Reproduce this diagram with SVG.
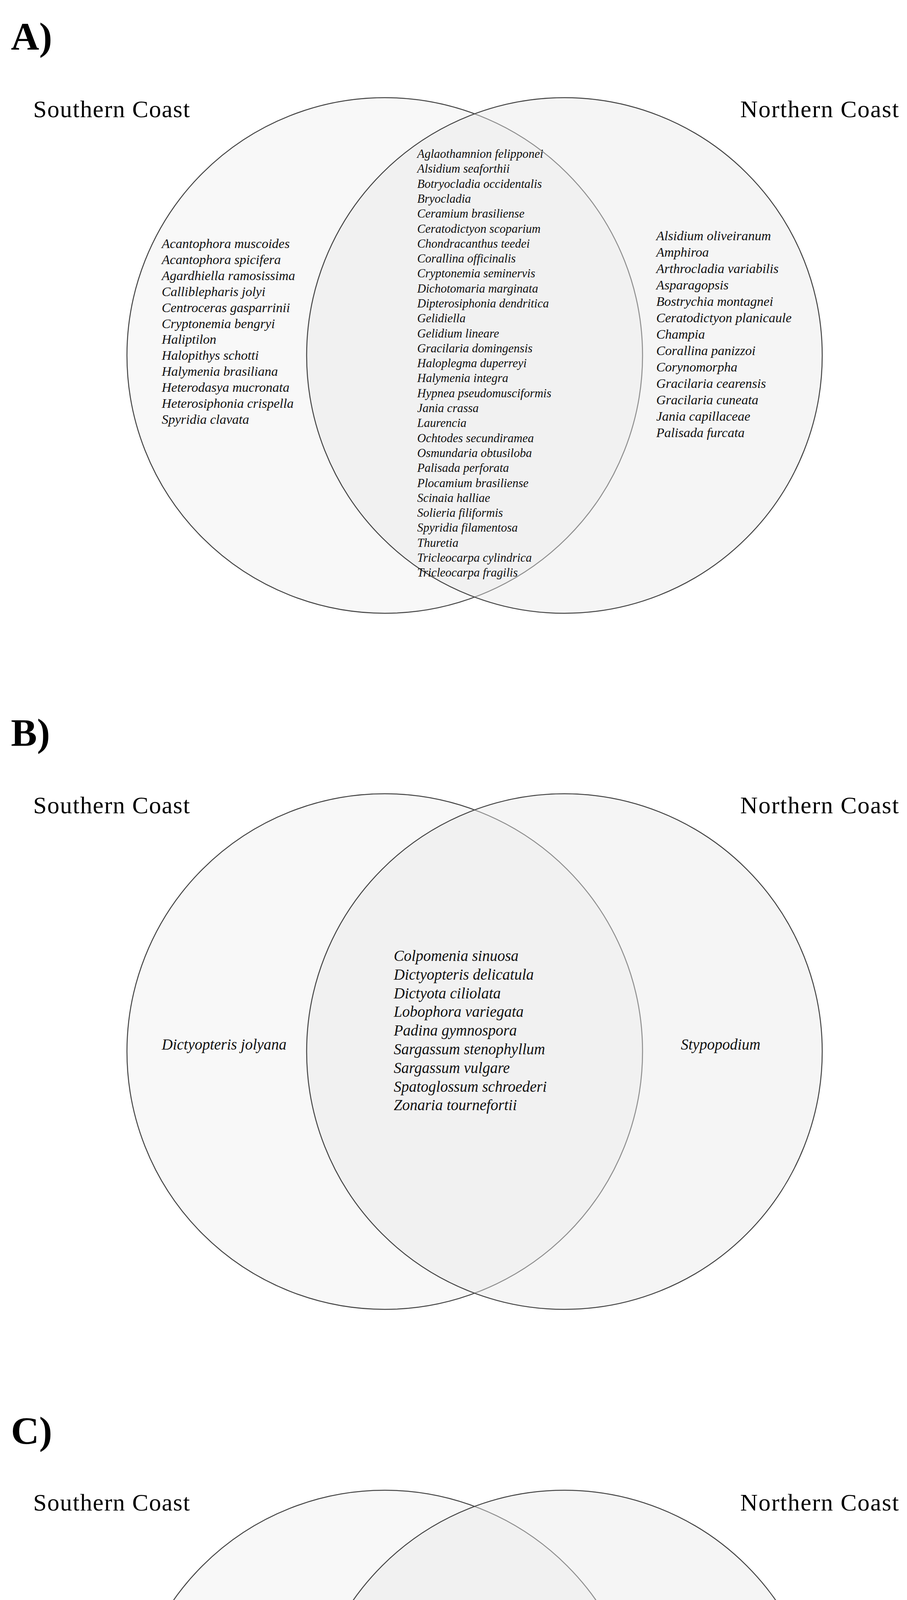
<svg xmlns="http://www.w3.org/2000/svg" width="2322" height="5167" viewBox="0 0 2322 5167">
<style>
.bg{fill:#fff}
.cl{fill:#f8f8f8;stroke:#444;stroke-width:2.5}
.cr{fill:#e8e8e8;fill-opacity:0.45;stroke:#444;stroke-width:2.5}
.pl{font-family:"Liberation Serif",serif;font-weight:bold;font-size:100px;fill:#000}
.tt{font-family:"Liberation Serif",serif;font-size:62px;fill:#000}
.sp{font-family:"Liberation Serif",serif;font-style:italic;fill:#111}
.a1{font-size:34px}
.a2{font-size:31px}
.b{font-size:39px}
</style>
<rect class="bg" x="0" y="0" width="2322" height="5167"/>

<g id="panelA">
<text class="pl" x="28" y="127">A)</text>
<circle class="cl" cx="985" cy="910" r="660"/>
<circle class="cr" cx="1445" cy="910" r="660"/>
<text class="tt" x="85" y="300" textLength="401">Southern Coast</text>
<text class="tt" x="1895" y="300" textLength="406">Northern Coast</text>
<g id="A-south">
<text class="sp a1" x="414" y="635">
<tspan x="414" dy="0">Acantophora muscoides</tspan>
<tspan x="414" dy="40.9">Acantophora spicifera</tspan>
<tspan x="414" dy="40.9">Agardhiella ramosissima</tspan>
<tspan x="414" dy="40.9">Calliblepharis jolyi</tspan>
<tspan x="414" dy="40.9">Centroceras gasparrinii</tspan>
<tspan x="414" dy="40.9">Cryptonemia bengryi</tspan>
<tspan x="414" dy="40.9">Haliptilon</tspan>
<tspan x="414" dy="40.9">Halopithys schotti</tspan>
<tspan x="414" dy="40.9">Halymenia brasiliana</tspan>
<tspan x="414" dy="40.9">Heterodasya mucronata</tspan>
<tspan x="414" dy="40.9">Heterosiphonia crispella</tspan>
<tspan x="414" dy="40.9">Spyridia clavata</tspan>
</text>
</g>
<g id="A-both">
<text class="sp a2" x="1068" y="404">
<tspan x="1068" dy="0">Aglaothamnion felipponei</tspan>
<tspan x="1068" dy="38.3">Alsidium seaforthii</tspan>
<tspan x="1068" dy="38.3">Botryocladia occidentalis</tspan>
<tspan x="1068" dy="38.3">Bryocladia</tspan>
<tspan x="1068" dy="38.3">Ceramium brasiliense</tspan>
<tspan x="1068" dy="38.3">Ceratodictyon scoparium</tspan>
<tspan x="1068" dy="38.3">Chondracanthus teedei</tspan>
<tspan x="1068" dy="38.3">Corallina officinalis</tspan>
<tspan x="1068" dy="38.3">Cryptonemia seminervis</tspan>
<tspan x="1068" dy="38.3">Dichotomaria marginata</tspan>
<tspan x="1068" dy="38.3">Dipterosiphonia dendritica</tspan>
<tspan x="1068" dy="38.3">Gelidiella</tspan>
<tspan x="1068" dy="38.3">Gelidium lineare</tspan>
<tspan x="1068" dy="38.3">Gracilaria domingensis</tspan>
<tspan x="1068" dy="38.3">Haloplegma duperreyi</tspan>
<tspan x="1068" dy="38.3">Halymenia integra</tspan>
<tspan x="1068" dy="38.3">Hypnea pseudomusciformis</tspan>
<tspan x="1068" dy="38.3">Jania crassa</tspan>
<tspan x="1068" dy="38.3">Laurencia</tspan>
<tspan x="1068" dy="38.3">Ochtodes secundiramea</tspan>
<tspan x="1068" dy="38.3">Osmundaria obtusiloba</tspan>
<tspan x="1068" dy="38.3">Palisada perforata</tspan>
<tspan x="1068" dy="38.3">Plocamium brasiliense</tspan>
<tspan x="1068" dy="38.3">Scinaia halliae</tspan>
<tspan x="1068" dy="38.3">Solieria filiformis</tspan>
<tspan x="1068" dy="38.3">Spyridia filamentosa</tspan>
<tspan x="1068" dy="38.3">Thuretia</tspan>
<tspan x="1068" dy="38.3">Tricleocarpa cylindrica</tspan>
<tspan x="1068" dy="38.3">Tricleocarpa fragilis</tspan>
</text>
</g>
<g id="A-north">
<text class="sp a1" x="1680" y="615">
<tspan x="1680" dy="0">Alsidium oliveiranum</tspan>
<tspan x="1680" dy="42">Amphiroa</tspan>
<tspan x="1680" dy="42">Arthrocladia variabilis</tspan>
<tspan x="1680" dy="42">Asparagopsis</tspan>
<tspan x="1680" dy="42">Bostrychia montagnei</tspan>
<tspan x="1680" dy="42">Ceratodictyon planicaule</tspan>
<tspan x="1680" dy="42">Champia</tspan>
<tspan x="1680" dy="42">Corallina panizzoi</tspan>
<tspan x="1680" dy="42">Corynomorpha</tspan>
<tspan x="1680" dy="42">Gracilaria cearensis</tspan>
<tspan x="1680" dy="42">Gracilaria cuneata</tspan>
<tspan x="1680" dy="42">Jania capillaceae</tspan>
<tspan x="1680" dy="42">Palisada furcata</tspan>
</text>
</g>
</g>

<g id="panelB">
<text class="pl" x="28" y="1909">B)</text>
<circle class="cl" cx="985" cy="2692" r="660"/>
<circle class="cr" cx="1445" cy="2692" r="660"/>
<text class="tt" x="85" y="2082" textLength="401">Southern Coast</text>
<text class="tt" x="1895" y="2082" textLength="406">Northern Coast</text>
<g id="B-south"><text class="sp b" x="414" y="2687">Dictyopteris jolyana</text></g>
<g id="B-both">
<text class="sp b" x="1008" y="2460">
<tspan x="1008" dy="0">Colpomenia sinuosa</tspan>
<tspan x="1008" dy="47.8">Dictyopteris delicatula</tspan>
<tspan x="1008" dy="47.8">Dictyota ciliolata</tspan>
<tspan x="1008" dy="47.8">Lobophora variegata</tspan>
<tspan x="1008" dy="47.8">Padina gymnospora</tspan>
<tspan x="1008" dy="47.8">Sargassum stenophyllum</tspan>
<tspan x="1008" dy="47.8">Sargassum vulgare</tspan>
<tspan x="1008" dy="47.8">Spatoglossum schroederi</tspan>
<tspan x="1008" dy="47.8">Zonaria tournefortii</tspan>
</text>
</g>
<g id="B-north"><text class="sp b" x="1743" y="2687">Stypopodium</text></g>
</g>

<g id="panelC">
<text class="pl" x="28" y="3696">C)</text>
<circle class="cl" cx="985" cy="4475" r="660"/>
<circle class="cr" cx="1445" cy="4475" r="660"/>
<text class="tt" x="85" y="3867" textLength="401">Southern Coast</text>
<text class="tt" x="1895" y="3867" textLength="406">Northern Coast</text>
<g id="C-south">
<text class="sp b" x="414" y="4423">
<tspan x="414" dy="0">Caulerpa setularioides</tspan>
<tspan x="414" dy="48">Udotea flabellum</tspan>
</text>
</g>
<g id="C-both">
<text class="sp b" x="1071" y="4346">
<tspan x="1071" dy="0">Anadyomene stellata</tspan>
<tspan x="1071" dy="47.4">Bryopsis</tspan>
<tspan x="1071" dy="47.4">Chaetomorpha linum</tspan>
<tspan x="1071" dy="47.4">Codium isthmocladium</tspan>
<tspan x="1071" dy="47.4">Halimeda gracilis</tspan>
<tspan x="1071" dy="47.4">Halimeda jolyana</tspan>
<tspan x="1071" dy="47.4">Ulva lactuca</tspan>
</text>
</g>
<g id="C-north">
<text class="sp b" x="1700" y="4335">
<tspan x="1700" dy="0">Caulerpa cupressoides</tspan>
<tspan x="1700" dy="46.8">Caulerpa mexicana</tspan>
<tspan x="1700" dy="46.8">Caulerpa prolifera</tspan>
<tspan x="1700" dy="46.8">Caulerpa racemosa</tspan>
<tspan x="1700" dy="46.8">Cladophora dalmatica</tspan>
<tspan x="1700" dy="46.8">Codium decorticatum</tspan>
<tspan x="1700" dy="46.8">Willeella ordinata</tspan>
</text>
</g>
</g>
<g id="connectors"/>
</svg>
